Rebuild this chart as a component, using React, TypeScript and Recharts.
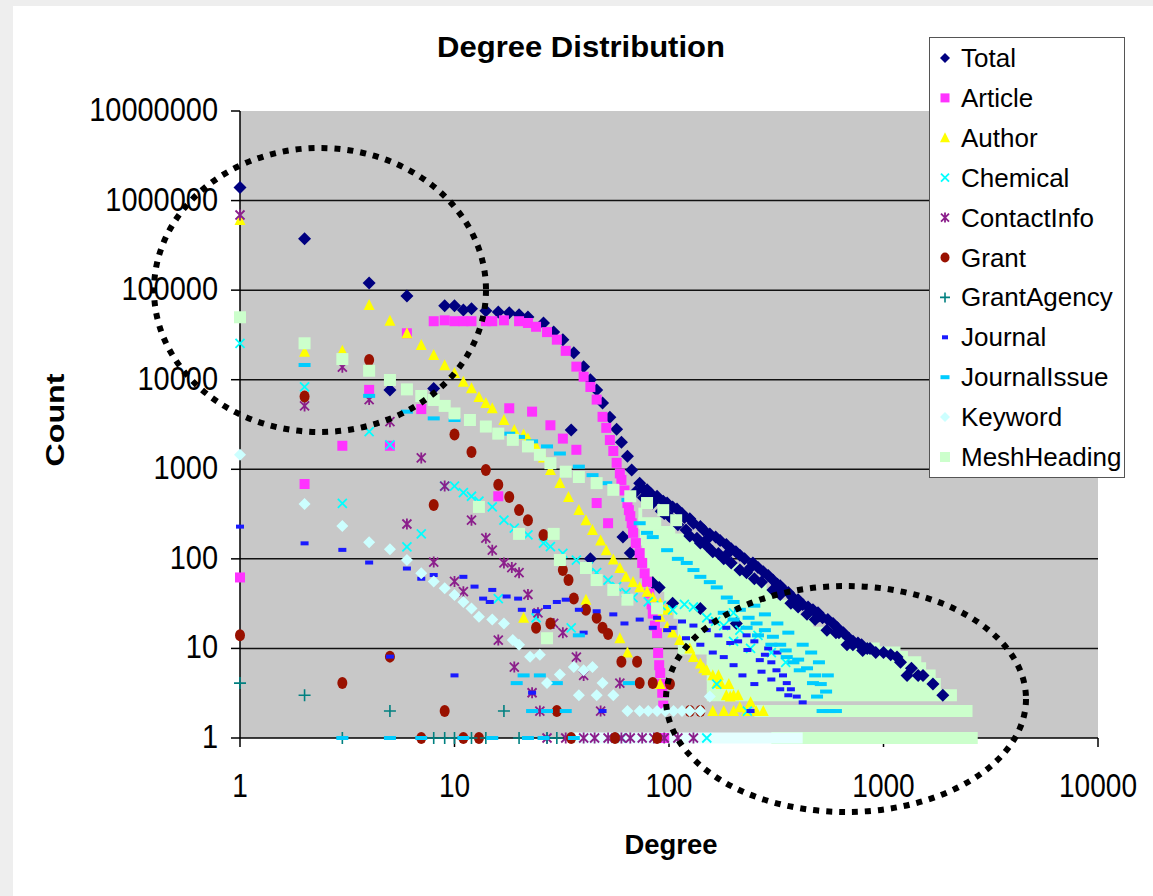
import React from "react";
import { ScatterChart, Scatter, XAxis, YAxis, CartesianGrid } from "recharts";

type Pt = [number, number];
type Row = [number, number, number]; // count, from degree, to degree

const X_TICKS = [1, 10, 100, 1000, 10000];
const Y_TICKS = [1, 10, 100, 1000, 10000, 100000, 1000000, 10000000];
const GRID_VALUES = [10, 100, 1000, 10000, 100000, 1000000];

// [degree, count]
const TOTAL: Pt[] = [
  [1, 1400000], [2, 375000], [4, 120000], [5, 7700], [6, 86000], [8, 8000],
  [9, 67000], [10, 67000], [11, 60000], [12, 62000], [14, 59000], [16, 57000], [18, 56000],
  [20, 53000], [22, 50000], [26, 43000], [29, 34000], [32, 28000], [36, 20000], [40, 14000],
  [43, 10000], [46, 7700], [49, 5500], [53, 3800], [57, 2800], [60, 2000], [64, 1400],
  [67, 980], [73, 700], [79, 590], [88, 500], [98, 420], [109, 360], [125, 280], [140, 230],
  [155, 190], [173, 160], [195, 130], [214, 110], [246, 90], [275, 72], [305, 58], [340, 46],
  [378, 37], [420, 31], [469, 27], [520, 22], [582, 19], [650, 15], [721, 12], [790, 11],
  [865, 10], [1000, 9], [1156, 8], [1288, 5], [1528, 5], [1890, 3],
  [70, 560], [76, 480], [84, 420], [92, 340], [100, 300], [110, 240], [125, 180], [140, 150],
  [160, 120], [180, 100], [214, 75], [250, 60], [305, 45], [370, 32], [440, 24], [545, 16],
  [676, 11], [800, 9.5], [118, 290], [150, 165], [190, 118], [240, 80], [330, 50], [400, 33],
  [500, 23], [620, 15],
  [76, 600], [82, 540], [94, 440], [104, 380], [115, 320], [130, 250], [145, 210], [165, 175],
  [185, 145], [205, 120], [225, 100], [260, 80], [290, 65], [320, 52], [360, 42], [400, 35],
  [445, 29], [495, 25], [550, 21], [610, 17], [690, 13], [760, 11.5], [840, 10], [920, 9],
  [1080, 8.5], [1200, 7], [1350, 6], [1450, 5], [1700, 4],
  [95, 320], [105, 270], [120, 210], [135, 170], [150, 140], [170, 115], [195, 90], [230, 70],
  [270, 55], [330, 40], [400, 29], [480, 21], [600, 15], [720, 11],
  [35, 2750], [61, 175], [66, 116], [43, 100], [84, 54], [90, 48], [104, 32], [140, 28], [206, 19],
];

const ARTICLE: Pt[] = [
  [1, 62], [2, 685], [3, 1830], [4, 7700], [5, 1830], [6, 33000], [7, 4700], [8, 45000],
  [9, 46000], [10, 45000], [11, 45000], [12, 45000], [14, 45000], [15, 45000], [17, 46000],
  [20, 45000], [22, 43000], [24, 39000], [27, 34000], [30, 28000], [33, 21000], [37, 14000],
  [40, 10800], [43, 8300], [46, 6000], [49, 3850], [51, 2900], [53, 2120], [55, 1600],
  [57, 1180], [59, 900], [60, 760], [62, 580], [64, 420], [65, 350], [66, 300], [67, 250],
  [68, 195], [70, 150], [73, 116], [75, 90], [77, 69], [79, 55], [81, 41], [83, 31], [84, 24.5],
  [86, 18], [88, 14.8], [89, 8.9], [90, 6.5], [91, 5.3], [92, 4], [93, 3.2], [94, 2.3], [95, 1],
  [18, 4800], [23, 4400], [28, 3100], [32, 2200], [37, 1650], [16, 500], [46, 420], [52, 250],
];

const AUTHOR: Pt[] = [
  [1, 607000], [2, 20500], [3, 21000], [4, 68000], [5, 45600], [6, 33000], [7, 24400],
  [8, 18900], [9, 14500], [10, 11900], [11, 9500], [12, 8000], [13, 6400], [14, 5500],
  [15, 4800], [17, 3550], [19, 2750], [21, 2450], [22, 2200], [24, 1800], [26, 1350],
  [28, 980], [31, 700], [34, 490], [38, 350], [41, 270], [44, 210], [48, 160], [51, 125],
  [55, 98], [59, 79], [63, 63], [68, 55], [73, 48], [79, 43], [84, 37], [91, 32], [98, 27],
  [91, 22.5], [98, 17.4], [104, 15], [112, 12.4], [125, 10], [140, 6.8], [150, 5.7],
  [167, 4.1], [193, 2.9], [214, 2.2], [160, 2], [180, 2], [200, 2], [230, 2], [255, 2],
  [275, 2], [160, 5], [175, 4], [185, 3], [200, 3], [130, 8], [145, 6], [170, 5], [190, 4],
  [210, 3], [240, 2.5], [21, 22], [41, 35], [59, 13], [64, 9], [91, 4],
];

const CHEMICAL: Pt[] = [
  [1, 25500], [2, 8300], [3, 417], [4, 2630], [5, 1870], [6, 136], [7, 190], [9, 650],
  [10, 650], [11, 550], [12, 500], [13, 440], [15, 380], [17, 270], [19, 220], [22, 185],
  [26, 150], [28, 137], [32, 115], [37, 97], [42, 82], [46, 70], [52, 58], [57, 49], [63, 42],
  [68, 37], [80, 33], [92, 30], [104, 27], [118, 31], [130, 29], [150, 22], [165, 20],
  [180, 18], [214, 16], [240, 10], [167, 4], [232, 2], [16, 36], [24, 22], [35, 17],
  [200, 12], [260, 14], [300, 9], [350, 7], [200, 25], [60, 1], [150, 1],
];

const CONTACT_INFO: Pt[] = [
  [1, 690000], [2, 5100], [3, 13800], [4, 6000], [5, 3400], [6, 245], [7, 1340], [8, 92],
  [9, 650], [10, 56], [11, 43], [12, 270], [14, 170], [15, 125], [17, 90], [18.5, 80],
  [20, 70], [22, 40], [24.5, 25], [29, 19], [32, 15], [37, 8], [40, 5], [19, 6.2], [16, 12.4],
  [23, 3.2], [25, 2], [48, 2], [59, 4.1],
  [27, 1], [33, 1], [40, 1], [45, 1], [52, 1], [60, 1], [66, 1], [75, 1], [85, 1], [95, 1],
  [110, 1], [130, 1],
];

const GRANT: Pt[] = [
  [1, 14], [2, 6500], [3, 4.1], [4, 16600], [5, 8.1], [7, 1], [8, 400], [9, 2], [10, 2450],
  [11, 1], [12, 1560], [13, 1], [14, 980], [16, 670], [18, 490], [20, 350], [22, 270],
  [24, 17], [26, 185], [28, 19], [30, 2], [32, 75], [34, 58], [35, 1], [36, 36], [41, 27],
  [46, 22], [49, 17], [52, 14.5], [56, 1], [60, 7.1], [71, 7.1], [73, 4.1], [84, 4.1],
  [88, 1], [101, 4], [125, 2], [140, 2],
];

const GRANT_AGENCY: Pt[] = [
  [1, 4.1], [2, 3], [3, 1], [5, 2], [8, 1], [9, 1], [10, 1], [12, 1], [14, 1], [17, 2],
  [20, 1], [27, 1], [30, 1],
];

const JOURNAL: Pt[] = [
  [1, 229], [2, 149], [3, 126], [4, 91], [5, 8.1], [6, 78], [7, 60], [8, 66], [10, 5],
  [11, 63], [12.4, 49], [13.6, 36], [14.6, 33], [15, 45], [17.5, 38], [19.8, 36], [20.6, 27],
  [23, 3.2], [24, 26], [27, 29], [30, 33], [33, 35], [38, 27], [40, 15], [46, 26], [49, 2],
  [55, 24], [62, 19], [73, 21], [84, 17], [88, 22], [98, 16], [104, 17], [115, 20], [130, 18],
  [150, 16], [170, 14], [193, 11.5], [210, 12], [232, 9.6], [265, 7.4], [280, 8.5], [300, 7],
  [317, 5.7], [340, 5], [354, 4.1], [370, 3.5], [394, 2.9], [420, 2.5], [240, 2],
  [120, 13], [140, 11], [160, 9], [180, 8], [200, 6.5], [220, 5], [250, 4], [270, 5.5],
  [300, 4.5], [330, 3.5], [360, 3], [160, 20], [185, 17], [230, 14], [250, 12], [290, 10],
  [320, 9],
];

const JOURNAL_ISSUE: Pt[] = [
  [2, 14600], [3, 1], [4, 6600], [5, 1], [6, 4400], [8, 3700], [10, 3550], [18, 2500],
  [20, 2300], [23, 2050], [27, 1800], [31, 1500], [38, 1070], [44, 860], [51, 700], [64, 455],
  [73, 250], [79, 195], [84, 175], [98, 125], [121, 90], [140, 63], [167, 48], [186, 37],
  [214, 27], [256, 19], [305, 13.5], [354, 8], [407, 5.7], [469, 4.1], [490, 2.9], [520, 2],
  [560, 2], [110, 100], [130, 75], [155, 55], [200, 33], [235, 22], [280, 16], [330, 11],
  [380, 7], [180, 25], [200, 21], [230, 17], [260, 14], [300, 11], [350, 9.5], [400, 7.5],
  [440, 6], [480, 5], [510, 4], [540, 3.3], [600, 2], [250, 30], [280, 24], [320, 19],
  [360, 15], [420, 11], [460, 9], [500, 7], [550, 5],
  [21, 5], [25, 5], [30, 4.1], [19.5, 4.1], [23, 2], [27, 2], [33, 2], [65, 4.1],
  [38, 14], [7, 1], [11, 1], [15, 1], [22, 1], [26, 1], [36, 1],
];

const KEYWORD: Pt[] = [
  [1, 1450], [2, 410], [3, 233], [4, 153], [5, 128], [6, 97], [7, 69], [8, 56], [9, 47],
  [10, 39.5], [11, 33], [12, 28], [13, 22.6], [15, 21], [17, 19], [18.7, 12.4], [20, 11],
  [22.5, 8.1], [25, 8.5], [27, 4.1], [31, 5.1], [36, 6.2], [40, 5.7], [44, 6.2], [49, 4.1],
  [38, 3], [46, 3], [55, 3], [64, 2], [73, 2], [80, 2], [88, 2], [96, 2], [105, 2], [115, 2],
  [125, 2], [140, 2], [155, 2.9],
];

const MESH_HEADING: Pt[] = [
  [1, 49800], [2, 25500], [3, 17000], [4, 12600], [5, 9930], [6, 7800], [7, 6580], [8, 5940],
  [9, 5100], [10, 4200], [11.8, 3550], [14, 3000], [16, 2500], [18.7, 2130], [22, 1800],
  [25, 1450], [28, 1170], [33, 940], [38, 820], [46, 700], [55, 590], [66, 500], [79, 420],
  [94, 350], [108, 270],
  [13, 380], [20, 190], [29, 190], [31, 97], [41, 79], [46, 58], [55, 45], [64, 35], [88, 28], [27, 13],
];

// dense low-count rows where the markers merge into a strip
const MESH_ROWS: Row[] = [
  [1, 300, 2750], [2, 250, 2600], [3, 150, 2200], [4, 150, 1850], [5, 150, 1750],
  [6, 150, 1580], [7, 150, 1500], [8, 150, 1300], [9, 150, 1200], [10, 110, 960],
  [12, 110, 720], [15, 110, 580], [20, 110, 470], [25, 105, 410], [30, 100, 370],
  [40, 95, 320], [50, 90, 285], [60, 85, 250], [75, 80, 214], [90, 78, 190], [110, 76, 165],
  [135, 75, 145], [165, 74, 125], [200, 73, 107], [250, 72, 92], [320, 72, 75],
];
const KEYWORD_ROWS: Row[] = [[1, 35, 420]];

const FONT = '"Liberation Sans", Arial, sans-serif';

type P = { cx?: number; cy?: number };
type Mk = (p: P) => React.ReactElement;

const diamond = (fill: string, r: number): Mk => ({ cx = 0, cy = 0 }) => (
  <polygon points={`${cx},${cy - r} ${cx + r},${cy} ${cx},${cy + r} ${cx - r},${cy}`} fill={fill} />
);
const square = (fill: string, s: number): Mk => ({ cx = 0, cy = 0 }) => (
  <rect x={cx - s / 2} y={cy - s / 2} width={s} height={s} fill={fill} />
);
const triangle = (fill: string, s: number): Mk => ({ cx = 0, cy = 0 }) => (
  <polygon
    points={`${cx},${cy - s * 0.55} ${cx + s / 2},${cy + s * 0.45} ${cx - s / 2},${cy + s * 0.45}`}
    fill={fill}
  />
);
const cross = (stroke: string, r: number): Mk => ({ cx = 0, cy = 0 }) => (
  <path
    d={`M${cx - r},${cy - r}L${cx + r},${cy + r}M${cx - r},${cy + r}L${cx + r},${cy - r}`}
    stroke={stroke}
    strokeWidth={1.8}
  />
);
const star = (stroke: string, r: number): Mk => ({ cx = 0, cy = 0 }) => (
  <path
    d={`M${cx - r},${cy - r}L${cx + r},${cy + r}M${cx - r},${cy + r}L${cx + r},${cy - r}M${cx},${cy - r - 1}L${cx},${cy + r + 1}`}
    stroke={stroke}
    strokeWidth={1.8}
  />
);
const dot = (fill: string, rx: number, ry: number): Mk => ({ cx = 0, cy = 0 }) => (
  <ellipse cx={cx} cy={cy} rx={rx} ry={ry} fill={fill} />
);
const plus = (stroke: string, r: number): Mk => ({ cx = 0, cy = 0 }) => (
  <path d={`M${cx - r},${cy}L${cx + r},${cy}M${cx},${cy - r}L${cx},${cy + r}`} stroke={stroke} strokeWidth={1.6} />
);
const dash = (fill: string, w: number, h: number): Mk => ({ cx = 0, cy = 0 }) => (
  <rect x={cx - w / 2} y={cy - h / 2} width={w} height={h} fill={fill} />
);

const SERIES: { name: string; data: Pt[]; marker: Mk; legend: Mk }[] = [
  { name: "Total", data: TOTAL, marker: diamond("#000080", 6.5), legend: diamond("#000080", 5) },
  { name: "Article", data: ARTICLE, marker: square("#ff33ff", 10), legend: square("#ff33ff", 9) },
  { name: "Author", data: AUTHOR, marker: triangle("#ffff00", 11), legend: triangle("#ffff00", 10) },
  { name: "Chemical", data: CHEMICAL, marker: cross("#00ffff", 4.5), legend: cross("#00ffff", 4) },
  { name: "ContactInfo", data: CONTACT_INFO, marker: star("#8b1f8b", 4.5), legend: star("#8b1f8b", 4) },
  { name: "Grant", data: GRANT, marker: dot("#991100", 5, 6), legend: dot("#991100", 4.5, 5) },
  { name: "GrantAgency", data: GRANT_AGENCY, marker: plus("#008080", 6), legend: plus("#008080", 5) },
  { name: "Journal", data: JOURNAL, marker: dash("#1a1aff", 8, 4), legend: dash("#1a1aff", 6, 4) },
  { name: "JournalIssue", data: JOURNAL_ISSUE, marker: dash("#00ccff", 12, 4), legend: dash("#00ccff", 9, 4) },
  { name: "Keyword", data: KEYWORD, marker: diamond("#ccffff", 6), legend: diamond("#ccffff", 5) },
  { name: "MeshHeading", data: MESH_HEADING, marker: square("#ccffcc", 12), legend: square("#ccffcc", 10) },
];

const toXY = (pts: Pt[]) => pts.map(([x, y]) => ({ x, y }));
const rowXY = ([c, from, to]: Row) => [{ x: from, y: c }, { x: to, y: c }];

const YTick = (p: any) => {
  const label = String(p.payload.value);
  return (
    <text
      x={p.x}
      y={p.y + 10}
      textAnchor="end"
      fontFamily={FONT}
      fontSize={34}
      fill="#000"
      textLength={label.length * 16.1}
      lengthAdjust="spacingAndGlyphs"
    >
      {label}
    </text>
  );
};

const XTick = (p: any) => {
  const label = String(p.payload.value);
  return (
    <text
      x={p.x}
      y={p.y + 48}
      textAnchor="middle"
      fontFamily={FONT}
      fontSize={33}
      fill="#000"
      textLength={label.length * 15.6}
      lengthAdjust="spacingAndGlyphs"
    >
      {label}
    </text>
  );
};

const noDot = () => <g />;

export default function App() {
  return (
    <div style={{ position: "absolute", left: 0, top: 0, width: 1153, height: 896, background: "#eeeeee", overflow: "hidden" }}>
      <div style={{ position: "absolute", left: 13, top: 6, right: 0, bottom: 0, background: "#fff" }} />
      <div style={{ position: "absolute", left: 0, top: 0 }}>
        <ScatterChart width={1153} height={896} margin={{ top: 111, right: 55, bottom: 98, left: 90 }}>
          <CartesianGrid
            vertical={false}
            horizontalValues={GRID_VALUES}
            stroke="#111"
            strokeWidth={1.5}
            fill="#c8c8c8"
            fillOpacity={1}
          />
          <XAxis
            type="number"
            dataKey="x"
            scale="log"
            domain={[1, 10000]}
            ticks={X_TICKS}
            interval={0}
            height={60}
            tickSize={9}
            tickMargin={2}
            axisLine={{ stroke: "#000", strokeWidth: 1.5 }}
            tickLine={{ stroke: "#000", strokeWidth: 1.5 }}
            tick={XTick}
          />
          <YAxis
            type="number"
            dataKey="y"
            scale="log"
            domain={[1, 10000000]}
            ticks={Y_TICKS}
            interval={0}
            width={150}
            tickSize={9}
            tickMargin={13}
            axisLine={{ stroke: "#000", strokeWidth: 1.5 }}
            tickLine={{ stroke: "#000", strokeWidth: 1.5 }}
            tick={YTick}
          />
          {MESH_ROWS.map((r, i) => (
            <Scatter
              key={`mesh-row-${i}`}
              data={rowXY(r)}
              line={{ stroke: "#ccffcc", strokeWidth: 12 }}
              lineType="joint"
              shape={noDot}
              legendType="none"
              isAnimationActive={false}
            />
          ))}
          {KEYWORD_ROWS.map((r, i) => (
            <Scatter
              key={`kw-row-${i}`}
              data={rowXY(r)}
              line={{ stroke: "#e4ffff", strokeWidth: 11 }}
              lineType="joint"
              shape={noDot}
              legendType="none"
              isAnimationActive={false}
            />
          ))}
          {SERIES.map((s) => (
            <Scatter
              key={s.name}
              name={s.name}
              data={toXY(s.data)}
              shape={s.marker as any}
              isAnimationActive={false}
            />
          ))}
        </ScatterChart>
      </div>
      <svg width={1153} height={896} style={{ position: "absolute", left: 0, top: 0, pointerEvents: "none" }}>
        <text
          x={581}
          y={57}
          textAnchor="middle"
          fontFamily={FONT}
          fontWeight="bold"
          fontSize={30}
          textLength={288}
          lengthAdjust="spacingAndGlyphs"
        >
          Degree Distribution
        </text>
        <text
          transform="translate(64,420) rotate(-90)"
          textAnchor="middle"
          fontFamily={FONT}
          fontWeight="bold"
          fontSize={26}
          textLength={93}
          lengthAdjust="spacingAndGlyphs"
        >
          Count
        </text>
        <text
          x={671}
          y={854}
          textAnchor="middle"
          fontFamily={FONT}
          fontWeight="bold"
          fontSize={27}
          textLength={93}
          lengthAdjust="spacingAndGlyphs"
        >
          Degree
        </text>
        <ellipse cx={320} cy={290} rx={166} ry={142} fill="none" stroke="#000" strokeWidth={6} strokeDasharray="6 7" />
        <ellipse cx={846} cy={699} rx={180} ry={113} fill="none" stroke="#000" strokeWidth={6} strokeDasharray="6 7" />
        <rect x={929.5} y={37.5} width={195} height={440} fill="#fff" stroke="#555" strokeWidth={1} />
        {SERIES.map((s, i) => {
          const cy = 58 + i * 39.9;
          return (
            <g key={s.name}>
              {s.legend({ cx: 945, cy })}
              <text x={961} y={cy + 9} fontFamily={FONT} fontSize={26} fill="#000">
                {s.name}
              </text>
            </g>
          );
        })}
      </svg>
    </div>
  );
}
